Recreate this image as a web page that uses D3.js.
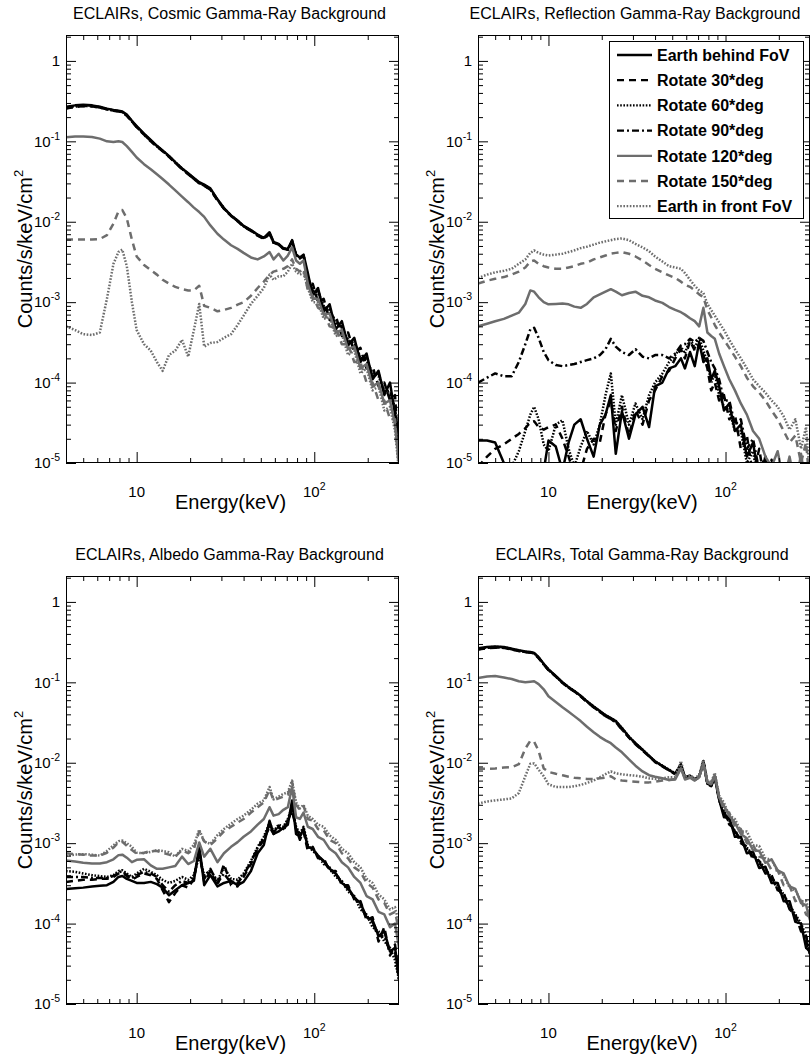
<!DOCTYPE html>
<html><head><meta charset="utf-8">
<script src="https://cdn.jsdelivr.net/npm/d3@7"></script>
<style>
body{margin:0;background:#fff;}
svg{display:block;}
text{font-family:"Liberation Sans", Arial, sans-serif;fill:#000;}
</style>
</head><body>
<svg id="chart" width="811" height="1061"></svg>
<script>
// ---------------- data ----------------
const energy = [4, 4.5, 5, 5.6, 6.2, 6.8, 7.4, 7.9, 8.3, 8.8,
  9.4, 10, 11, 12, 13, 14, 15.2, 16.5, 18, 19.5,
  21, 22.5, 24, 26, 28.5, 31, 34, 37, 40, 44,
  48, 52, 56, 59, 63, 67, 71, 75, 79, 83,
  87, 92, 98, 105, 113, 122, 132, 143, 155, 168,
  182, 197, 213, 230, 248, 267, 285, 300];

const seriesLabels = ["Earth behind FoV", "Rotate 30*deg", "Rotate 60*deg", "Rotate 90*deg",
  "Rotate 120*deg", "Rotate 150*deg", "Earth in front FoV"];

const panelTitles = ["ECLAIRs, Cosmic Gamma-Ray Background", "ECLAIRs, Reflection Gamma-Ray Background",
  "ECLAIRs, Albedo Gamma-Ray Background", "ECLAIRs, Total Gamma-Ray Background"];

// Cosmic
const cosmicBehind = [0.27,0.28,0.285,0.28,0.27,0.255,0.245,0.24,0.235,0.215,
  0.18,0.155,0.125,0.104,0.088,0.077,0.066,0.055,0.046,0.04,
  0.035,0.031,0.029,0.026,0.019,0.0148,0.012,0.0104,0.0089,0.0079,
  0.0069,0.0063,0.0074,0.0056,0.0053,0.0047,0.0046,0.0059,0.0039,0.0036,
  0.0039,0.0023,0.0012,0.0015,0.00076,0.00094,0.00046,0.00058,0.00029,0.00036,
  0.00018,0.00023,0.00011,0.00014,0.00007,0.0001,0.00004,0.000015];
const cosmic30 = [0.255,0.268,0.274,0.272,0.262,0.25,0.24,0.235,0.23,0.208,
  0.175,0.15,0.121,0.1,0.086,0.075,0.064,0.054,0.045,0.039,
  0.034,0.03,0.028,0.025,0.0185,0.0145,0.0118,0.0101,0.0087,0.0077,
  0.0067,0.0061,0.0071,0.0055,0.0052,0.0046,0.0045,0.0057,0.0038,0.0035,
  0.0038,0.0017,0.0017,0.001,0.0011,0.0006,0.00068,0.00038,0.00042,0.00024,
  0.00027,0.00015,0.00016,0.00009,0.0001,0.00006,0.00007,0.00001];
const cosmic60 = [0.262,0.274,0.28,0.277,0.267,0.252,0.243,0.238,0.232,0.211,
  0.178,0.152,0.123,0.102,0.087,0.076,0.065,0.055,0.046,0.0395,
  0.0345,0.0305,0.0285,0.0255,0.0188,0.0147,0.0119,0.0103,0.0088,0.0078,
  0.0068,0.0062,0.0072,0.0055,0.0052,0.0047,0.0045,0.0058,0.0039,0.0036,
  0.0038,0.002,0.0014,0.0013,0.0009,0.0008,0.00055,0.00048,0.00034,0.0003,
  0.00021,0.00019,0.00013,0.00012,0.00008,0.00007,0.00005,0.000012];
const cosmic90 = [0.258,0.27,0.277,0.274,0.264,0.25,0.242,0.236,0.231,0.21,
  0.177,0.151,0.122,0.101,0.087,0.076,0.065,0.054,0.0455,0.0392,
  0.0342,0.0302,0.0282,0.0252,0.0186,0.0146,0.0119,0.0102,0.0088,0.0078,
  0.0068,0.0062,0.0071,0.0055,0.0052,0.0046,0.0045,0.0057,0.0038,0.0035,
  0.0038,0.0021,0.0013,0.0014,0.00085,0.00085,0.0005,0.0005,0.00032,0.00032,
  0.0002,0.0002,0.00012,0.00013,0.000075,0.00008,0.000045,0.00002];
const cosmic120 = [0.112,0.115,0.115,0.113,0.108,0.1,0.098,0.1,0.098,0.087,
  0.074,0.063,0.052,0.045,0.039,0.034,0.029,0.0245,0.0205,0.0175,
  0.015,0.0132,0.0115,0.009,0.0071,0.006,0.0051,0.0046,0.0041,0.0036,
  0.0034,0.0037,0.0042,0.0034,0.004,0.0033,0.0038,0.0048,0.0033,0.003,
  0.0033,0.0017,0.0011,0.0011,0.0007,0.00072,0.00042,0.00045,0.00026,0.00028,
  0.00015,0.00017,0.00009,0.0001,0.000055,0.00006,0.00003,0.00001];
const cosmic150 = [0.006,0.006,0.006,0.006,0.0061,0.0068,0.0095,0.0135,0.014,0.011,
  0.006,0.0037,0.0029,0.0025,0.0022,0.0019,0.0017,0.00155,0.00145,0.0014,
  0.0014,0.0016,0.0009,0.00085,0.00077,0.0008,0.00085,0.00093,0.001,0.0012,
  0.0015,0.0018,0.0022,0.0024,0.0025,0.0026,0.0028,0.0034,0.0026,0.0024,
  0.0026,0.0014,0.0012,0.00085,0.00078,0.0005,0.00048,0.0003,0.0003,0.00018,
  0.00018,0.0001,0.0001,0.00006,0.00006,0.000035,0.000035,0.000008];
const cosmicFront = [0.0005,0.00045,0.0004,0.00039,0.00042,0.0011,0.003,0.0042,0.0045,0.0028,
  0.001,0.00045,0.0003,0.00025,0.00018,0.00014,0.00022,0.00025,0.00034,0.00021,
  0.00045,0.00095,0.00028,0.00031,0.00032,0.00036,0.0004,0.00052,0.00068,0.00095,
  0.0012,0.0015,0.0022,0.0019,0.0021,0.0021,0.0024,0.003,0.0024,0.0022,
  0.0023,0.0015,0.001,0.001,0.00062,0.00065,0.00038,0.0004,0.00022,0.00025,
  0.00013,0.00015,0.00008,0.00009,0.000045,0.00005,0.000025,0.000008];

// Reflection
const reflBehind = [1.9e-5,1.9e-5,1.8e-5,1e-5,7e-6,5e-6,5e-6,5e-6,5e-6,5e-6,
  8e-6,1.9e-5,1.6e-5,8e-6,1.8e-5,3e-5,3.5e-5,2e-5,1.2e-5,3e-5,
  4e-5,7e-5,1.3e-5,4.4e-5,2e-5,4e-5,5e-5,2.8e-5,9e-5,1e-4,
  1.5e-4,1.6e-4,2e-4,1.5e-4,2.4e-4,1.6e-4,3.2e-4,1.8e-4,2e-4,1.1e-4,
  1.4e-4,9e-5,4.5e-5,5.5e-5,2.5e-5,3e-5,1.2e-5,1.8e-5,6e-6,1.2e-5,
  5e-6,5e-6,5e-6,5e-6,5e-6,5e-6,5e-6,5e-6];
const refl30 = [9e-6,1.2e-5,1.5e-5,1.7e-5,2e-5,2.3e-5,2.7e-5,3.2e-5,3.3e-5,2.8e-5,
  2.6e-5,2.8e-5,3e-5,2e-5,1.2e-5,7e-6,8e-6,1.5e-5,2e-5,1.8e-5,
  4e-5,6e-5,2.5e-5,5e-5,2.2e-5,4.5e-5,3e-5,6e-5,8e-5,1.2e-4,
  1.4e-4,2e-4,2.6e-4,2e-4,3.3e-4,2.5e-4,3e-4,2.2e-4,1.5e-4,8e-5,
  1e-4,6e-5,7e-5,3.5e-5,4e-5,1.5e-5,2.2e-5,7e-6,1.5e-5,5e-6,
  1.1e-5,5e-6,5e-6,5e-6,5e-6,5e-6,5e-6,5e-6];
const refl60 = [5e-6,5e-6,5e-6,6e-6,9e-6,1.4e-5,2.5e-5,4e-5,5e-5,3.5e-5,
  1.7e-5,1.4e-5,3e-5,3.4e-5,1.5e-5,9e-6,1.6e-5,2.5e-5,1.7e-5,3e-5,
  7e-5,1.3e-4,3e-5,7e-5,3e-5,5.5e-5,3.5e-5,7e-5,1e-4,1.3e-4,
  1.8e-4,2.2e-4,2.8e-4,2.3e-4,3.5e-4,2.7e-4,3.6e-4,2.5e-4,1.8e-4,1e-4,
  1.3e-4,7e-5,5e-5,4.5e-5,2.5e-5,2.5e-5,1e-5,1.4e-5,5e-6,9e-6,
  5e-6,5e-6,5e-6,5e-6,5e-6,5e-6,5e-6,5e-6];
const refl90 = [1e-4,1.15e-4,1.3e-4,1.2e-4,1.2e-4,1.8e-4,3e-4,4.6e-4,4.8e-4,3.6e-4,
  2.4e-4,1.9e-4,1.65e-4,1.6e-4,1.65e-4,1.7e-4,1.8e-4,1.9e-4,2e-4,2.2e-4,
  2.6e-4,3.5e-4,2.8e-4,2.4e-4,2.2e-4,2.6e-4,2.1e-4,2e-4,2.2e-4,2.2e-4,
  2e-4,2.3e-4,2.9e-4,3e-4,3.5e-4,3.2e-4,3.6e-4,3.3e-4,2.4e-4,1.8e-4,
  1.5e-4,1.1e-4,6e-5,6e-5,3e-5,3.5e-5,1.5e-5,2e-5,8e-6,1.2e-5,
  5e-6,9e-6,5e-6,5e-6,5e-6,5e-6,5e-6,5e-6];
const refl120 = [5e-4,5.4e-4,5.8e-4,6.2e-4,6.8e-4,7.4e-4,9.5e-4,1.4e-3,1.35e-3,1.15e-3,
  1e-3,9.4e-4,9.5e-4,9.6e-4,9.4e-4,8.8e-4,8.5e-4,9.5e-4,1.15e-3,1.25e-3,
  1.35e-3,1.45e-3,1.35e-3,1.22e-3,1.3e-3,1.35e-3,1.2e-3,1.15e-3,1.05e-3,9.8e-4,
  8.7e-4,8e-4,7.5e-4,7e-4,6.3e-4,5.8e-4,5e-4,8.5e-4,4.2e-4,3.8e-4,
  3.5e-4,2.3e-4,1.6e-4,1.1e-4,8e-5,5.5e-5,4e-5,2.5e-5,2e-5,1.2e-5,
  9e-6,1.4e-5,6e-6,1.2e-5,5e-6,1.3e-5,5e-6,5e-6];
const refl150 = [1.7e-3,1.85e-3,1.95e-3,2.05e-3,2.2e-3,2.4e-3,2.7e-3,3.2e-3,3.3e-3,3e-3,
  2.8e-3,2.7e-3,2.6e-3,2.6e-3,2.7e-3,2.8e-3,3e-3,3.1e-3,3.4e-3,3.6e-3,
  3.8e-3,4e-3,4.1e-3,4.2e-3,4e-3,3.7e-3,3.3e-3,2.9e-3,2.6e-3,2.35e-3,
  2.15e-3,2e-3,1.8e-3,1.65e-3,1.55e-3,1.4e-3,1.25e-3,1.15e-3,8e-4,6.5e-4,
  5.2e-4,4.2e-4,3.4e-4,2.7e-4,2.1e-4,1.6e-4,1.15e-4,9e-5,7.5e-5,6e-5,
  4.5e-5,3.5e-5,2.5e-5,1.8e-5,2.2e-5,1e-5,1.8e-5,5e-6];
const reflFront = [2e-3,2.2e-3,2.35e-3,2.45e-3,2.6e-3,3e-3,3.4e-3,4.1e-3,4.4e-3,4.1e-3,
  3.9e-3,3.8e-3,3.9e-3,4e-3,4.2e-3,4.4e-3,4.7e-3,4.9e-3,5.2e-3,5.5e-3,
  5.7e-3,5.9e-3,6.1e-3,6.2e-3,5.9e-3,5.3e-3,4.8e-3,4.3e-3,3.7e-3,3.2e-3,
  2.8e-3,2.7e-3,2.6e-3,2.3e-3,1.9e-3,1.6e-3,1.4e-3,1.3e-3,9.5e-4,8e-4,
  6.8e-4,5.6e-4,4.5e-4,3.4e-4,2.6e-4,2e-4,1.5e-4,1.1e-4,9e-5,7.5e-5,
  6e-5,5e-5,3.8e-5,2.6e-5,3.5e-5,1.5e-5,2.8e-5,6e-6];

// Albedo
const albedoBehind = [2.7e-4,2.75e-4,2.8e-4,2.9e-4,2.95e-4,3e-4,3.3e-4,3.8e-4,3.9e-4,3.6e-4,
  3.4e-4,3.2e-4,3.2e-4,3.3e-4,3.1e-4,2.8e-4,2.25e-4,2.6e-4,3e-4,3.2e-4,
  3.4e-4,9.4e-4,3e-4,4e-4,2.9e-4,3.2e-4,3.4e-4,3e-4,3.3e-4,4.5e-4,
  7.5e-4,9.5e-4,1.9e-3,1.3e-3,1.4e-3,1.55e-3,1.7e-3,3.4e-3,1.3e-3,1.2e-3,
  1.5e-3,9e-4,8.5e-4,7e-4,6e-4,4.8e-4,4.2e-4,3.2e-4,2.8e-4,2.1e-4,
  1.8e-4,1.2e-4,1.1e-4,7e-5,8e-5,4.5e-5,5e-5,2.2e-5];
const albedo30 = [3.3e-4,3.4e-4,3.5e-4,3.5e-4,3.6e-4,3.6e-4,3.8e-4,4.2e-4,4.3e-4,3.9e-4,
  3.5e-4,3.8e-4,4.2e-4,4e-4,3.6e-4,2.6e-4,1.85e-4,2.4e-4,3e-4,2.8e-4,
  3.6e-4,8e-4,3.3e-4,4.5e-4,3e-4,5.5e-4,3e-4,2.9e-4,3.8e-4,5.5e-4,
  8.5e-4,1.1e-3,1.6e-3,1.3e-3,1.6e-3,1.4e-3,1.9e-3,2.6e-3,1.5e-3,1.1e-3,
  1.4e-3,8e-4,9e-4,6.5e-4,6.5e-4,4.5e-4,4.5e-4,3e-4,3e-4,2e-4,
  1.9e-4,1.1e-4,1.2e-4,6e-5,9e-5,4e-5,5.5e-5,2e-5];
const albedo60 = [4.5e-4,4.4e-4,4.2e-4,4e-4,3.9e-4,3.8e-4,4e-4,4.5e-4,4.6e-4,4.2e-4,
  3.8e-4,4.2e-4,4.8e-4,4.4e-4,4e-4,3.5e-4,3.2e-4,3.4e-4,3.8e-4,3.5e-4,
  4e-4,7e-4,4e-4,4.6e-4,3.4e-4,5e-4,3.6e-4,3.5e-4,4.2e-4,6e-4,
  9e-4,1.2e-3,1.8e-3,1.4e-3,1.7e-3,1.6e-3,2e-3,2.8e-3,1.6e-3,1.3e-3,
  1.6e-3,9.5e-4,8e-4,7e-4,5.5e-4,5e-4,3.8e-4,3.4e-4,2.5e-4,2.2e-4,
  1.5e-4,1.3e-4,9e-5,8e-5,6e-5,5e-5,3.5e-5,2e-5];
const albedo90 = [3.8e-4,3.8e-4,3.8e-4,3.7e-4,3.7e-4,3.7e-4,3.9e-4,4.3e-4,4.5e-4,4e-4,
  3.7e-4,4e-4,4.4e-4,4.2e-4,3.8e-4,3e-4,2.5e-4,3e-4,3.4e-4,3.2e-4,
  3.8e-4,7.5e-4,3.6e-4,4.8e-4,3.2e-4,4.2e-4,3.2e-4,3.2e-4,4e-4,5.8e-4,
  8.8e-4,1.15e-3,1.7e-3,1.35e-3,1.65e-3,1.5e-3,1.95e-3,2.7e-3,1.55e-3,1.2e-3,
  1.5e-3,8.8e-4,8.5e-4,6.8e-4,6e-4,4.7e-4,4.2e-4,3.2e-4,2.7e-4,2.1e-4,
  1.7e-4,1.2e-4,1.05e-4,7e-5,7e-5,4.5e-5,4.5e-5,2e-5];
const albedo120 = [6.1e-4,5.9e-4,5.7e-4,5.6e-4,5.6e-4,5.8e-4,6.3e-4,7.1e-4,7.2e-4,6.6e-4,
  5.8e-4,6.2e-4,6.3e-4,5.3e-4,4.8e-4,4.8e-4,5e-4,5.2e-4,6.8e-4,5.5e-4,
  6e-4,1.02e-3,6.8e-4,8.5e-4,5.8e-4,7.5e-4,9e-4,1.03e-3,1.2e-3,1.4e-3,
  1.7e-3,2e-3,2.8e-3,2.2e-3,2.3e-3,2.6e-3,2.8e-3,5e-3,2.1e-3,2e-3,
  2.4e-3,1.6e-3,1.5e-3,1.2e-3,1.1e-3,8.5e-4,7.5e-4,5.8e-4,5e-4,3.8e-4,
  3.2e-4,2.2e-4,2e-4,1.4e-4,1.3e-4,9e-5,1e-4,5e-5];
const albedo150 = [7.5e-4,7.3e-4,7.2e-4,7e-4,7e-4,7.6e-4,8.8e-4,1.02e-3,1.04e-3,9.3e-4,
  8.2e-4,7.4e-4,7.6e-4,8e-4,8e-4,7.6e-4,7.2e-4,6.8e-4,8.2e-4,7.5e-4,
  8.5e-4,1.4e-3,1.05e-3,9.5e-4,1.15e-3,1.4e-3,1.6e-3,1.8e-3,2e-3,2.4e-3,
  2.8e-3,3.2e-3,4.6e-3,3.4e-3,3.6e-3,3.8e-3,4e-3,5.8e-3,3e-3,2.6e-3,
  2.9e-3,2e-3,1.9e-3,1.5e-3,1.45e-3,1.1e-3,1e-3,7.5e-4,6.5e-4,5e-4,
  4.4e-4,3.2e-4,2.8e-4,2e-4,1.8e-4,1.3e-4,1.4e-4,8e-5];
const albedoFront = [7e-4,7.2e-4,7.3e-4,7.2e-4,7e-4,8e-4,9.4e-4,1.06e-3,1.08e-3,1e-3,
  9e-4,7.6e-4,7.5e-4,7.8e-4,8.2e-4,8e-4,7.7e-4,6.8e-4,8.5e-4,8e-4,
  9.5e-4,1.47e-3,1.05e-3,9.8e-4,1.26e-3,1.5e-3,1.75e-3,2e-3,2.2e-3,2.6e-3,
  3.1e-3,3.4e-3,5e-3,3.5e-3,3.8e-3,4.1e-3,4.3e-3,6e-3,3.2e-3,2.7e-3,
  3e-3,2.2e-3,2e-3,1.7e-3,1.6e-3,1.25e-3,1.1e-3,8.5e-4,7.5e-4,5.8e-4,
  5e-4,3.6e-4,3.2e-4,2.3e-4,2e-4,1.5e-4,1.6e-4,1e-4];

// Total
const totalBehind = [0.265,0.275,0.278,0.275,0.262,0.25,0.242,0.238,0.232,0.205,
  0.17,0.145,0.12,0.1,0.087,0.078,0.068,0.058,0.05,0.044,
  0.039,0.036,0.033,0.027,0.021,0.0175,0.0145,0.0122,0.0104,0.0091,
  0.0081,0.0073,0.0095,0.0066,0.0068,0.0062,0.0067,0.0105,0.0055,0.0052,
  0.0068,0.0035,0.0021,0.0021,0.0012,0.0012,0.00075,0.00078,0.00049,0.00051,
  0.00032,0.00032,0.00019,0.00019,0.000105,0.0001,0.00005,0.000045];
const total30 = [0.255,0.265,0.27,0.268,0.256,0.245,0.238,0.234,0.228,0.2,
  0.166,0.142,0.118,0.098,0.086,0.077,0.067,0.057,0.049,0.043,
  0.038,0.035,0.032,0.026,0.0205,0.017,0.0142,0.012,0.0102,0.009,
  0.008,0.0072,0.0093,0.0065,0.0067,0.0061,0.0066,0.0102,0.0054,0.0051,
  0.0066,0.0034,0.0025,0.0017,0.0015,0.001,0.0009,0.00063,0.0006,0.00042,
  0.0004,0.00026,0.00024,0.00015,0.00013,0.00008,0.00007,0.00004];
const total60 = [0.26,0.272,0.276,0.273,0.26,0.248,0.24,0.236,0.23,0.203,
  0.168,0.144,0.119,0.099,0.087,0.078,0.068,0.058,0.05,0.044,
  0.039,0.036,0.033,0.027,0.021,0.0175,0.0145,0.0122,0.0104,0.0092,
  0.0082,0.0074,0.0096,0.0067,0.0069,0.0063,0.0068,0.0106,0.0056,0.0053,
  0.0069,0.0036,0.0025,0.0019,0.0014,0.0011,0.00088,0.00072,0.0006,0.00048,
  0.00037,0.0003,0.00023,0.00017,0.00013,0.0001,0.00007,0.00005];
const total90 = [0.258,0.268,0.273,0.27,0.258,0.246,0.239,0.235,0.229,0.202,
  0.167,0.143,0.119,0.099,0.086,0.077,0.067,0.057,0.049,0.043,
  0.038,0.035,0.032,0.026,0.0207,0.0172,0.0143,0.0121,0.0103,0.0091,
  0.0081,0.0073,0.0094,0.0066,0.0068,0.0062,0.0067,0.0104,0.0055,0.0052,
  0.0067,0.0035,0.0024,0.0018,0.0014,0.00105,0.00085,0.00068,0.00057,0.00045,
  0.00035,0.00028,0.00021,0.00016,0.00012,0.00009,0.00006,0.000045];
const total120 = [0.113,0.118,0.12,0.115,0.11,0.103,0.1,0.102,0.103,0.095,
  0.082,0.067,0.057,0.049,0.043,0.038,0.033,0.028,0.024,0.021,
  0.019,0.0175,0.0155,0.0135,0.011,0.0092,0.0078,0.007,0.0067,0.0064,
  0.0061,0.0062,0.0085,0.0062,0.0065,0.006,0.0066,0.0098,0.0057,0.0054,
  0.0069,0.0037,0.0029,0.0022,0.0018,0.0013,0.00115,0.00082,0.0008,0.00057,
  0.00063,0.00046,0.00042,0.00029,0.00027,0.00018,0.00017,0.00011];
const total150 = [0.0084,0.0084,0.0085,0.0087,0.0088,0.0096,0.015,0.0188,0.0183,0.014,
  0.0085,0.0077,0.0073,0.007,0.0067,0.0065,0.0064,0.0063,0.0063,0.0064,
  0.0065,0.0068,0.0062,0.006,0.0059,0.0058,0.0057,0.0057,0.0058,0.006,
  0.0061,0.0063,0.0088,0.0063,0.0066,0.0062,0.0067,0.0095,0.0058,0.0055,
  0.0072,0.0038,0.0026,0.0024,0.0016,0.0015,0.001,0.00095,0.00068,0.00064,
  0.00046,0.00046,0.0003,0.0003,0.00019,0.0002,0.00013,0.00012];
const totalFront = [0.0031,0.0033,0.0034,0.0035,0.0036,0.0042,0.0068,0.0097,0.0098,0.0082,
  0.0068,0.0054,0.005,0.005,0.005,0.0051,0.0053,0.0056,0.006,0.0066,
  0.0072,0.0078,0.0074,0.0072,0.007,0.0069,0.0067,0.0064,0.0063,0.0064,
  0.0066,0.0066,0.0105,0.0067,0.007,0.0064,0.0071,0.0108,0.006,0.0057,
  0.0075,0.0039,0.0032,0.0022,0.002,0.0014,0.0014,0.00095,0.00092,0.00065,
  0.00062,0.00045,0.0004,0.00028,0.00026,0.00019,0.00019,0.00014];

// ticks
const xMajorTicks = [10, 100];
const xMinorTicks = [5, 6, 7, 8, 9, 20, 30, 40, 50, 60, 70, 80, 90, 200];
const yMajorTicks = [1e-5, 1e-4, 1e-3, 1e-2, 1e-1, 1];
const yMinorMultipliers = [2, 3, 4, 5, 6, 7, 8, 9];
const xTickLabels = [{value: 10, base: "10", exp: ""}, {value: 100, base: "10", exp: "2"}];
const yTickLabels = [{value: 1, base: "1", exp: ""}, {value: 1e-1, base: "10", exp: "-1"},
  {value: 1e-2, base: "10", exp: "-2"}, {value: 1e-3, base: "10", exp: "-3"},
  {value: 1e-4, base: "10", exp: "-4"}, {value: 1e-5, base: "10", exp: "-5"}];

const panels = [
  {title: panelTitles[0], series: [cosmicBehind, cosmic30, cosmic60, cosmic90, cosmic120, cosmic150, cosmicFront]},
  {title: panelTitles[1], series: [reflBehind, refl30, refl60, refl90, refl120, refl150, reflFront], legend: true},
  {title: panelTitles[2], series: [albedoBehind, albedo30, albedo60, albedo90, albedo120, albedo150, albedoFront]},
  {title: panelTitles[3], series: [totalBehind, total30, total60, total90, total120, total150, totalFront]},
];

// ---------------- styling / layout ----------------
const GRAY = "#6d6d6d";
const styles = [
  {color: "#000", dash: null},
  {color: "#000", dash: "7,5"},
  {color: "#000", dash: "1.6,1.6"},
  {color: "#000", dash: "7,3,2,3"},
  {color: GRAY, dash: null},
  {color: GRAY, dash: "7,5"},
  {color: GRAY, dash: "1.6,1.6"},
];
const layout = [
  {left: 66, top: 35, width: 333, titleShift: -3},
  {left: 478, top: 35, width: 332, titleShift: -9},
  {left: 66, top: 576, width: 333, titleShift: -3},
  {left: 478, top: 576, width: 332, titleShift: -2},
];
const plotHeight = 428;
const xDomain = [4, 300];
const yDomain = [1e-5, 2.1];

const yMinorTicks = [];
yMajorTicks.forEach(d => yMinorMultipliers.forEach(m => { if (d * m <= yDomain[1]) yMinorTicks.push(d * m); }));

const svg = d3.select("#chart");

panels.forEach((p, pi) => {
  const L = layout[pi];
  const g = svg.append("g").attr("transform", `translate(${L.left},${L.top})`);
  const x = d3.scaleLog().domain(xDomain).range([0, L.width]);
  const y = d3.scaleLog().domain(yDomain).range([plotHeight, 0]);

  const clipId = "clip" + pi;
  g.append("clipPath").attr("id", clipId).append("rect").attr("width", L.width).attr("height", plotHeight);
  const line = d3.line().x(d => x(d[0])).y(d => y(d[1]));
  const lg = g.append("g").attr("clip-path", `url(#${clipId})`);
  p.series.forEach((vals, si) => {
    lg.append("path").datum(d3.zip(energy, vals))
      .attr("d", line).attr("fill", "none")
      .attr("stroke", styles[si].color).attr("stroke-width", 2.5)
      .attr("stroke-linejoin", "round")
      .attr("stroke-dasharray", styles[si].dash);
  });

  const ax = (axisFn, scale, vals, size, tr) => g.append("g").attr("transform", tr)
    .call(axisFn(scale).tickValues(vals).tickSize(size).tickFormat(""))
    .call(s => s.select(".domain").remove());
  ax(d3.axisBottom, x, xMajorTicks, -11, `translate(0,${plotHeight})`);
  ax(d3.axisBottom, x, xMinorTicks, -5, `translate(0,${plotHeight})`);
  ax(d3.axisTop, x, xMajorTicks, -11, "translate(0,0)");
  ax(d3.axisTop, x, xMinorTicks, -5, "translate(0,0)");
  ax(d3.axisLeft, y, yMajorTicks, -10, "translate(0,0)");
  ax(d3.axisLeft, y, yMinorTicks, -5, "translate(0,0)");
  ax(d3.axisRight, y, yMajorTicks, -10, `translate(${L.width},0)`);
  ax(d3.axisRight, y, yMinorTicks, -5, `translate(${L.width},0)`);

  g.append("rect").attr("x", 0.5).attr("y", 0.5).attr("width", L.width - 1).attr("height", plotHeight - 1)
    .attr("fill", "none").attr("stroke", "#000").attr("stroke-width", 1);

  // y tick labels
  yTickLabels.forEach(t => {
    const tx = g.append("text").attr("x", -6).attr("y", y(t.value)).attr("dy", "0.35em")
      .attr("text-anchor", "end").attr("font-size", 15).text(t.base);
    if (t.exp) tx.append("tspan").attr("dy", -7).attr("font-size", 10.5).text(t.exp);
  });
  // x tick labels
  xTickLabels.forEach(t => {
    const tx = g.append("text").attr("x", x(t.value)).attr("y", plotHeight + 34)
      .attr("text-anchor", "middle").attr("font-size", 15).text(t.base);
    if (t.exp) tx.append("tspan").attr("dy", -7).attr("font-size", 10.5).text(t.exp);
  });
  // axis titles
  g.append("text").attr("x", L.width / 2 - 2).attr("y", plotHeight + 46)
    .attr("text-anchor", "middle").attr("font-size", 20).text("Energy(keV)");
  const yl = g.append("text").attr("transform", `translate(-34,${plotHeight / 2}) rotate(-90)`)
    .attr("text-anchor", "middle").attr("font-size", 20).text("Counts/s/keV/cm");
  yl.append("tspan").attr("dy", -9).attr("font-size", 13).text("2");
  // title
  g.append("text").attr("x", L.width / 2 + L.titleShift).attr("y", -16)
    .attr("text-anchor", "middle").attr("font-size", 16).text(p.title);

  if (p.legend) {
    const lgX = 131, lgY = 6, lgW = 194, lgH = 177;
    const leg = g.append("g").attr("transform", `translate(${lgX},${lgY})`);
    leg.append("rect").attr("x", 0.5).attr("y", 0.5).attr("width", lgW).attr("height", lgH)
      .attr("fill", "#fff").attr("stroke", "#000").attr("stroke-width", 1);
    seriesLabels.forEach((lab, i) => {
      const cy = 14 + i * 25.2;
      leg.append("line").attr("x1", 8).attr("x2", 43).attr("y1", cy).attr("y2", cy)
        .attr("stroke", styles[i].color).attr("stroke-width", 2.3)
        .attr("stroke-dasharray", styles[i].dash);
      leg.append("text").attr("x", 48).attr("y", cy).attr("dy", "0.36em")
        .attr("font-size", 16).attr("font-weight", "bold").text(lab);
    });
  }
});
</script>
</body></html>
